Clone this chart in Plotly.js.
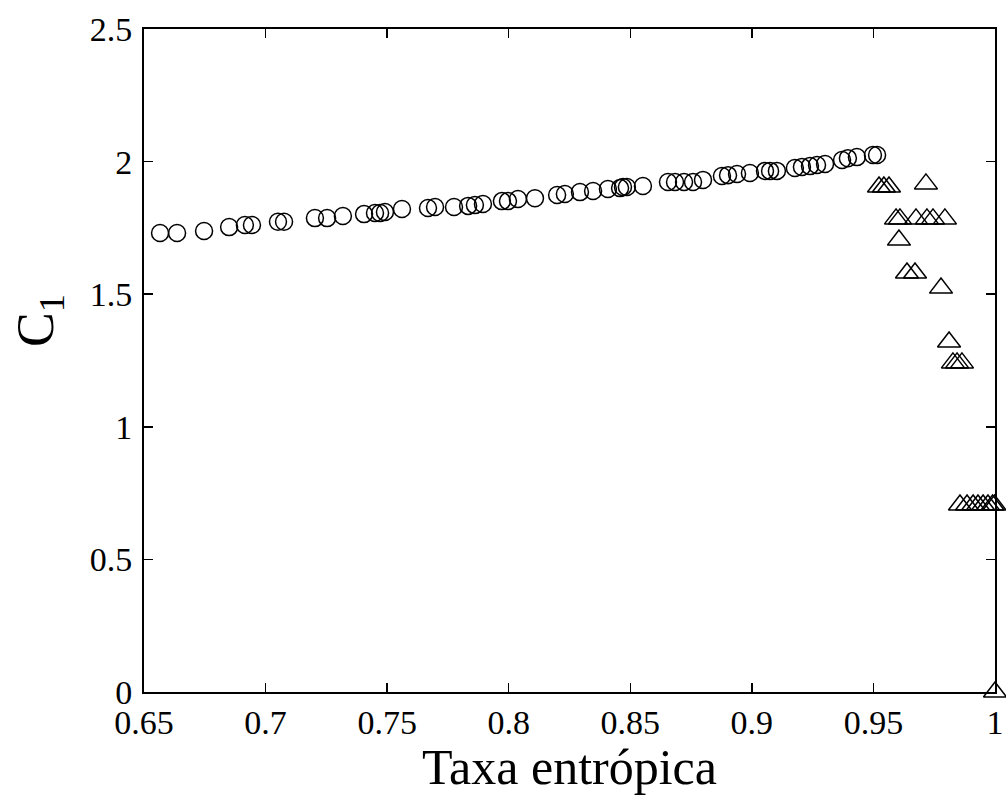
<!DOCTYPE html>
<html>
<head>
<meta charset="utf-8">
<script src="https://cdn.plot.ly/plotly-3.0.1.min.js"></script>
<style>html,body{margin:0;padding:0;background:#fff;}#chart{width:1006px;height:795px;}</style>
</head>
<body>
<div id="chart"></div>
<script>
const circleX = [0.6566,0.6636,0.6747,0.6850,0.6915,0.6944,0.7051,0.7076,0.7203,0.7253,0.7318,0.7405,0.7450,0.7471,0.7491,0.7561,0.7668,0.7697,0.7775,0.7833,0.7861,0.7894,0.7972,0.7997,0.8038,0.8108,0.8199,0.8231,0.8293,0.8347,0.8408,0.8458,0.8470,0.8486,0.8552,0.8655,0.8684,0.8721,0.8758,0.8799,0.8877,0.8902,0.8939,0.8992,0.9054,0.9075,0.9103,0.9177,0.9206,0.9239,0.9268,0.9301,0.9371,0.9395,0.9432,0.9498,0.9515];
const circleY = [1.731,1.731,1.738,1.753,1.761,1.761,1.773,1.773,1.787,1.787,1.795,1.802,1.806,1.806,1.810,1.821,1.825,1.829,1.829,1.833,1.836,1.840,1.851,1.851,1.859,1.862,1.874,1.878,1.885,1.889,1.897,1.900,1.904,1.904,1.908,1.923,1.923,1.923,1.923,1.931,1.946,1.949,1.953,1.957,1.965,1.965,1.965,1.976,1.980,1.983,1.987,1.991,2.006,2.013,2.017,2.025,2.025];
const triX = [0.9523,0.9543,0.9564,0.9716,0.9593,0.9609,0.9675,0.9720,0.9745,0.9794,0.9605,0.9638,0.9671,0.9778,0.9811,0.9827,0.9844,0.9864,0.9856,0.9885,0.9910,0.9930,0.9951,0.9971,0.9990,0.9998,1.0];
const triY = [1.904,1.904,1.904,1.916,1.784,1.784,1.784,1.784,1.784,1.784,1.704,1.580,1.580,1.523,1.320,1.241,1.241,1.241,0.705,0.705,0.705,0.705,0.705,0.705,0.705,0.705,0.0];
const xTicks = [0.65,0.7,0.75,0.8,0.85,0.9,0.95,1];
const xTickText = ['0.65','0.7','0.75','0.8','0.85','0.9','0.95','1'];
const yTicks = [0,0.5,1,1.5,2,2.5];
const yTickText = ['0','0.5','1','1.5','2','2.5'];
const xTitle = 'Taxa entrópica';
const yTitle = 'C<sub>1</sub>';

const fontFam = 'Liberation Serif, Times New Roman, serif';
const traces = [
  {x: circleX, y: circleY, type: 'scatter', mode: 'markers', cliponaxis: false,
   marker: {symbol: 'circle-open', size: 17, color: '#000', line: {width: 1.5, color: '#000'}}},
  {x: triX, y: triY, type: 'scatter', mode: 'markers', cliponaxis: false,
   marker: {symbol: 'triangle-up-open', size: 20, color: '#000', line: {width: 1.5, color: '#000'}}}
];
const axisCommon = {
  showgrid: false, zeroline: false, showline: true, linecolor: '#000', linewidth: 2,
  mirror: 'allticks', ticks: 'inside', ticklen: 9, tickwidth: 1.5, tickcolor: '#000',
  tickfont: {family: fontFam, size: 34, color: '#000'}
};
const layout = {
  width: 1006, height: 795,
  margin: {l: 144, r: 11, t: 29, b: 103},
  paper_bgcolor: '#fff', plot_bgcolor: '#fff',
  showlegend: false,
  xaxis: Object.assign({}, axisCommon, {
    range: [0.65, 1], tickmode: 'array', tickvals: xTicks, ticktext: xTickText,
    ticklabelstandoff: -1,
    title: {text: xTitle, font: {family: fontFam, size: 50, color: '#000'}, standoff: 10}
  }),
  yaxis: Object.assign({}, axisCommon, {
    range: [0, 2.5], tickmode: 'array', tickvals: yTicks, ticktext: yTickText,
    ticklabelstandoff: 3
  }),
  annotations: [{
    text: yTitle, xref: 'paper', yref: 'paper', x: -0.122, y: 0.56,
    xanchor: 'center', yanchor: 'middle', textangle: -90, showarrow: false,
    font: {family: fontFam, size: 52, color: '#000'}
  }]
};
Plotly.newPlot('chart', traces, layout, {displayModeBar: false, staticPlot: true});
</script>
</body>
</html>
